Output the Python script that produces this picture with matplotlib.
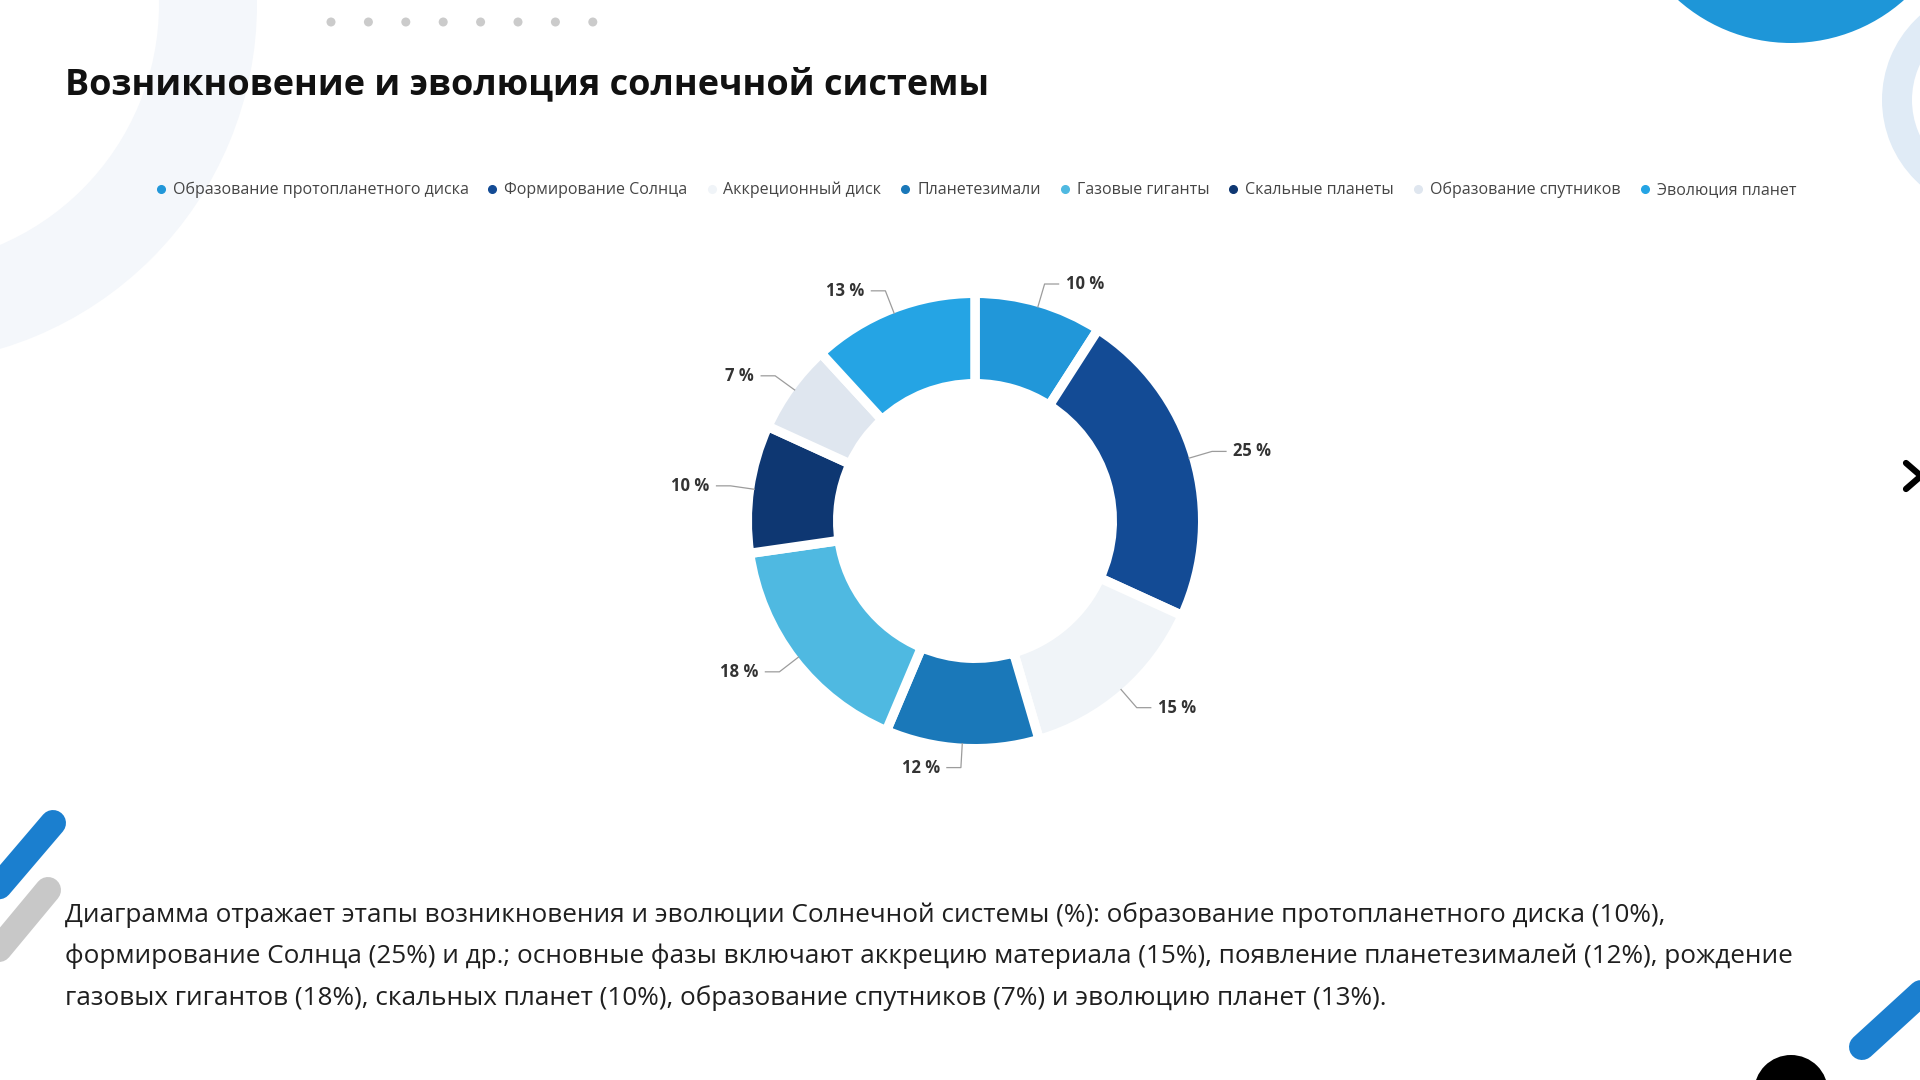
import matplotlib
matplotlib.use("Agg")
import matplotlib.pyplot as plt
from matplotlib.patches import Circle, Wedge
from matplotlib.lines import Line2D
import numpy as np

plt.rcParams['font.family'] = ['Open Sans', 'DejaVu Sans']

# ---------------- data ----------------
title = "Возникновение и эволюция солнечной системы"
categories = ["Образование протопланетного диска", "Формирование Солнца", "Аккреционный диск",
              "Планетезимали", "Газовые гиганты", "Скальные планеты",
              "Образование спутников", "Эволюция планет"]
values = [10, 25, 15, 12, 18, 10, 7, 13]
colors = ["#2197d9", "#134b95", "#f0f4f8", "#1a78b9", "#4fb9e1", "#0e3772", "#dfe6ef", "#25a4e4"]
body_lines = [
    "Диаграмма отражает этапы возникновения и эволюции Солнечной системы (%): образование протопланетного диска (10%),",
    "формирование Солнца (25%) и др.; основные фазы включают аккрецию материала (15%), появление планетезималей (12%), рождение",
    "газовых гигантов (18%), скальных планет (10%), образование спутников (7%) и эволюцию планет (13%).",
]

W, H = 1920, 1080
fig = plt.figure(figsize=(19.2, 10.8), dpi=100)
fig.patch.set_facecolor("white")

# ---------------- background decorations (pixel coords, y down) ----------------
bg = fig.add_axes([0, 0, 1, 1], zorder=0)
bg.set_xlim(0, W)
bg.set_ylim(H, 0)
bg.axis("off")

bg.add_patch(Wedge((-103, 4), 360, 0, 360, width=98, color="#f4f7fb", lw=0))
bg.add_patch(Circle((1791, -127), 170, color="#1e96d8", lw=0))
bg.add_patch(Wedge((1995, 100), 113, 0, 360, width=30, color="#e0ebf6", lw=0))
for i in range(8):
    bg.add_patch(Circle((331 + 37.4 * i, 22), 4.5, color="#cbcbcb", lw=0))
lw_bar = 26 * 0.72
bg.plot([53, -40], [823, 932], color="#1b7fcf", lw=lw_bar, solid_capstyle="round")
bg.plot([48, -45], [890, 1002], color="#c8c8c8", lw=lw_bar, solid_capstyle="round")
bg.plot([1862, 1990], [1047, 930], color="#1b7fcf", lw=lw_bar, solid_capstyle="round")
bg.add_patch(Circle((1791, 1092), 37, color="black", lw=0))
bg.plot([1906, 1921, 1906], [463, 476, 489], color="black", lw=4.5,
        solid_capstyle="round", solid_joinstyle="round")

# ---------------- title & body ----------------
fig.text(65 / W, 1 - 85 / H, title, fontsize=25.9, fontweight="bold", color="#111111",
         ha="left", va="center")
for i, line in enumerate(body_lines):
    fig.text(65 / W, 1 - (915 + 41.6 * i) / H, line, fontsize=18.8, color="#1f1f1f",
             ha="left", va="center")

# ---------------- donut ----------------
cx, cy, R = 975, 521, 223.0
lim = 1.4
size = 2 * lim * R
ax = fig.add_axes([(cx - size / 2) / W, (H - cy - size / 2) / H, size / W, size / H], zorder=2)

gap = 9.5  # px white gap
r_in_px = 142.0
wedges, _ = ax.pie(values, colors=colors, startangle=90, counterclock=False,
                   radius=(R + gap / 2) / R,
                   wedgeprops=dict(width=(R - r_in_px + gap) / R, edgecolor="white",
                                   linewidth=gap * 0.72))
ax.set_xlim(-lim, lim)
ax.set_ylim(-lim, lim)
ax.set_aspect("equal")
ax.axis("off")

L1, L2, G = 24 / R, 14 / R, 7 / R
for w, v in zip(wedges, values):
    mid = np.deg2rad((w.theta1 + w.theta2) / 2)
    c, s = np.cos(mid), np.sin(mid)
    p0 = (c, s)
    p1 = ((1 + L1) * c, (1 + L1) * s)
    side = 1 if c >= 0 else -1
    p2 = (p1[0] + side * L2, p1[1])
    ax.plot([p0[0], p1[0], p2[0]], [p0[1], p1[1], p2[1]], color="#9c9c9c", lw=0.9)
    ax.text(p2[0] + side * G, p2[1], f"{v} %", ha="left" if side > 0 else "right",
            va="center", fontsize=12, fontweight="bold", color="#333333")

# ---------------- legend ----------------
handles = [Line2D([0], [0], marker="o", linestyle="none", markersize=5.5,
                  markerfacecolor=col, markeredgecolor=col) for col in colors]
fig.legend(handles, categories, loc="center", bbox_to_anchor=(976 / W, 1 - 190 / H),
           ncol=len(categories), frameon=False, fontsize=11.5, handlelength=0.6,
           handletextpad=0.45, columnspacing=1.2, labelcolor="#454545",
           borderaxespad=0)

fig.savefig("out.png", dpi=100, facecolor="white")
